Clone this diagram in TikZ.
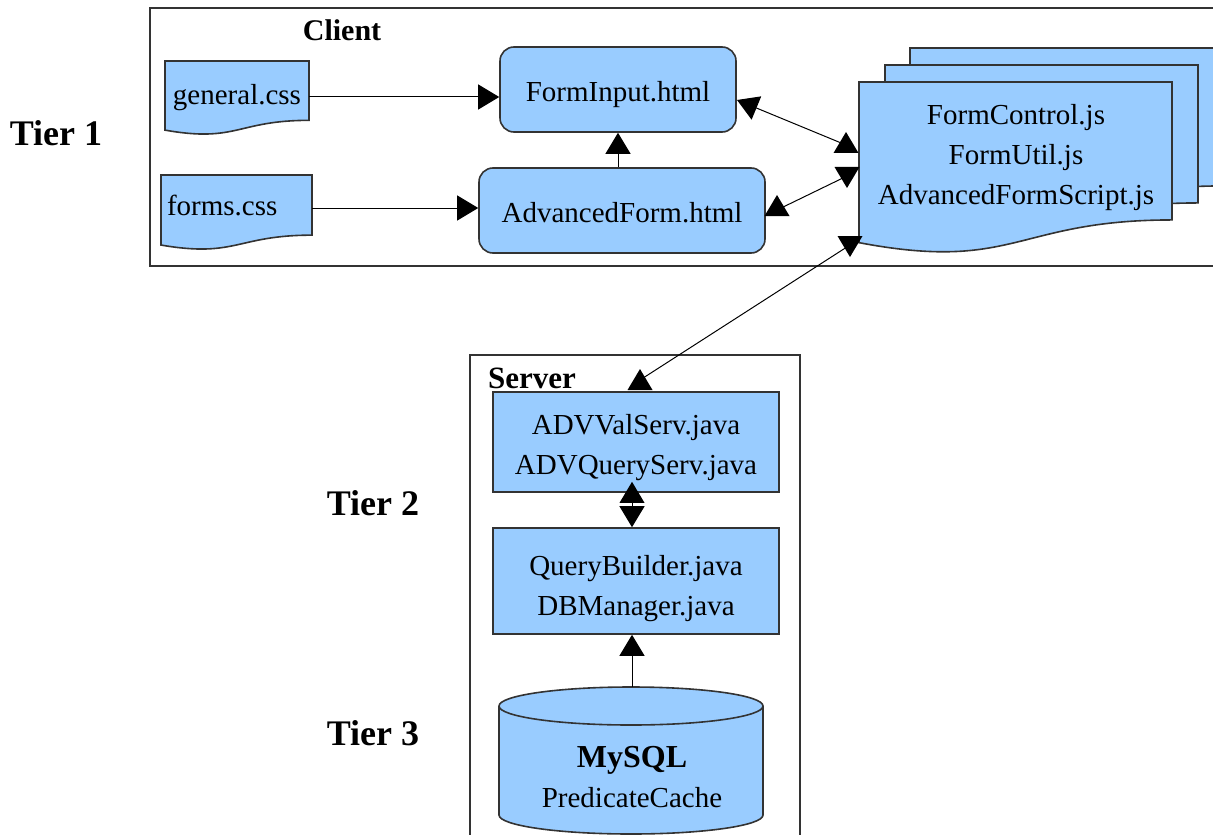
\documentclass[tikz,border=0pt]{standalone}
\usepackage{fontspec}
\setmainfont{Liberation Serif}
\usetikzlibrary{arrows.meta,positioning,calc}
\definecolor{fileblue}{HTML}{99CCFF}
\definecolor{edgegray}{HTML}{333333}
\tikzset{
  panel/.style={draw=edgegray, line width=0.6pt},
  paneltitle/.style={font=\fontsize{15}{18}\selectfont\bfseries, inner sep=0pt},
  tiertitle/.style={font=\fontsize{18}{22}\selectfont\bfseries, inner sep=0pt, text height=0.75em, text depth=0.25em},
  page/.style={draw=edgegray, line width=0.8pt, fill=fileblue},
  fname/.style={inner sep=0pt, text height=0.95em, text depth=0.17em},
  html/.style={page, rounded corners=7pt, inner sep=0pt, text height=1.3em, text depth=0.1em},
  java/.style={page, align=center, inner sep=0pt, minimum width=143pt},
  conn/.style={draw=black, line width=0.5pt},
  arrow/.style={conn, -{Triangle[width=12.5pt,length=10.5pt]}},
  backarrow/.style={conn, {Triangle[width=12.5pt,length=10.5pt]}-},
  uptip/.pic={\fill (0,0) -- (-12.5,21) -- (12.5,21) -- cycle;},
  downtip/.pic={\fill (0,0) -- (-12.5,-21) -- (12.5,-21) -- cycle;}
}
% sheet with a wavy lower edge: left, top, width, height unit
\newcommand{\docpage}[4]{%
  \path[page] (#1,#2) -- ++(#3,0) -- ++(0,0.802*#4)
    .. controls (#1+0.5*#3,#2+0.802*#4) and (#1+0.5*#3,#2+1.107*#4) .. (#1,#2+0.934*#4) -- cycle;}

\begin{document}
\begin{tikzpicture}[x=0.5pt, y=-0.5pt, font=\fontsize{14.5}{20}\selectfont]
  \useasboundingbox (0,0) rectangle (1213,834);
  \clip (0,0) rectangle (1213,834);

  % client side
  \draw[panel] (150,8) rectangle (1230,266);
  \node[paneltitle] (client) at (342,30) {Client};
  \docpage{165}{61}{144}{74}
  \docpage{161}{175}{151}{75}
  \node[fname, minimum width=72pt] (gen) at (237,97) {general.css};
  \node[fname, text width=69.5pt, inner xsep=3pt, align=left, text height=0.9em, text depth=0.2em] (forms) at (236.5,208) {forms.css};
  \node[html, minimum width=118pt, minimum height=42.5pt] (fi) at (618,89.5) {FormInput.html};
  \node[html, minimum width=143pt, minimum height=42.5pt] (af) at (622,210.5) {AdvancedForm.html};

  % stacked scripts
  \docpage{910}{48}{313}{172}
  \docpage{885}{65}{313}{172}
  \docpage{859}{82}{313}{172}
  \node[align=center, inner sep=0pt] (js) at (1016,158) {FormControl.js\\FormUtil.js\\AdvancedFormScript.js};

  % server side
  \draw[panel] (470,355) rectangle (800,860);
  \node[paneltitle, font=\fontsize{15.5}{18}\selectfont\bfseries] (server) at (532,378) {Server};
  \node[java, minimum height=50pt] (adv) at (636,442) {\rule{0pt}{1.05em}ADVValServ.java\\ADVQueryServ.java};
  \node[java, minimum height=53pt] (qb) at (636,581) {\rule{0pt}{1.2em}QueryBuilder.java\\DBManager.java};
  \path[page] (499,706) -- (499,815) arc[start angle=180, end angle=0, x radius=132, y radius=19]
    -- (763,706) arc[start angle=0, end angle=-180, x radius=132, y radius=19] -- cycle;
  \draw[page, fill=none] (499,706) arc[start angle=180, end angle=0, x radius=132, y radius=19];
  \node[align=center, inner sep=0pt, minimum width=132pt, minimum height=90pt] (db) at (632,777)
    {{\fontsize{16}{20}\selectfont\bfseries MySQL}\\PredicateCache};

  % tiers
  \node[tiertitle] (t1) at (56,141) {Tier 1};
  \node[tiertitle] (t2) at (373,510) {Tier 2};
  \node[tiertitle] (t3) at (373,740) {Tier 3};

  % connectors
  \coordinate (fiR) at (737,100);
  \coordinate (afR) at (777,210);
  \coordinate (jsA) at (846,145);
  \coordinate (jsB) at (847,176);
  \coordinate (jsC) at (850,245);
  \coordinate (advT) at (640,380);

  \draw[arrow] (gen.east) -- (gen.east -| fi.west);
  \draw[arrow] (forms.east) -- (forms.east -| af.west);
  \draw[arrow] (fi.south |- af.north) -- (fi.south);

  \draw[backarrow] (fiR) -- (jsA);
  \pic at ($(jsA)+(0,-13)$) {uptip};
  \draw[conn] (afR) -- (jsB);
  \pic at ($(afR)+(0,-15)$) {uptip};
  \pic at ($(jsB)+(0,12)$) {downtip};
  \draw[conn] (jsC) -- (advT);
  \pic at ($(jsC)+(0,12)$) {downtip};
  \pic at ($(advT)+(0,-11)$) {uptip};

  \draw[arrow] (adv.south -| db.north) -- (qb.north -| db.north);
  \pic at ($(adv.south -| db.north)+(0,-11)$) {uptip};
  \draw[arrow] (db.north) -- (db.north |- qb.south);
\end{tikzpicture}
\end{document}
